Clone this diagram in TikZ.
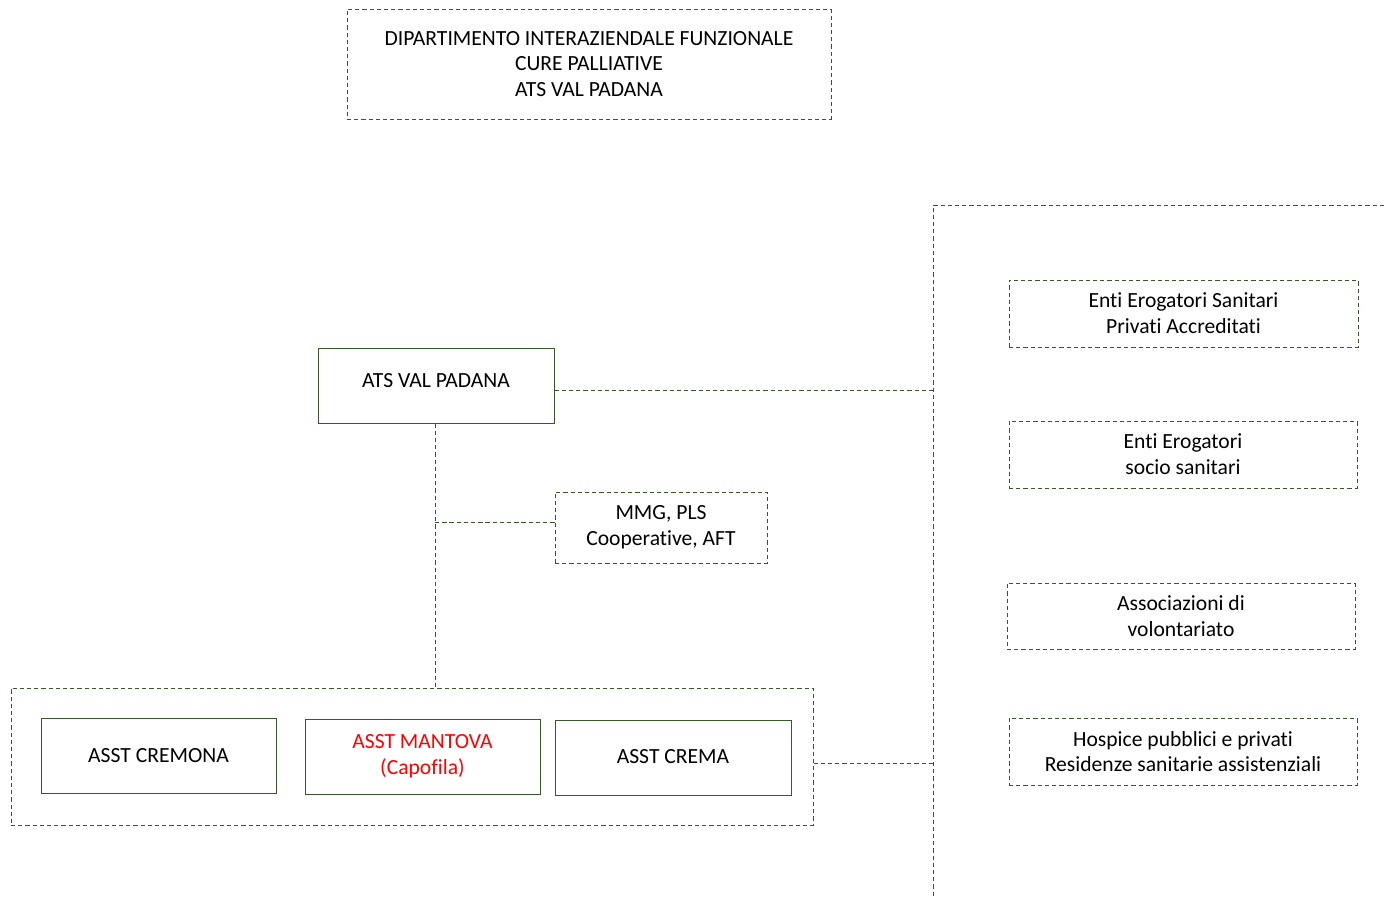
\documentclass[tikz,border=0pt]{standalone}
\usepackage{fontspec}
\setmainfont{Carlito}[Ligatures=CommonOff]
\definecolor{dgreen}{HTML}{38572A}
\definecolor{ared}{HTML}{FF0000}
\begin{document}
\begin{tikzpicture}[x=0.75pt,y=-0.75pt,
  every node/.style={font=\fontsize{16.2}{19.3}\selectfont, align=center, inner sep=0pt},
  dbox/.style={draw=dgreen, line width=0.75pt, dash pattern=on 3.2pt off 2.2pt, rectangle},
  sbox/.style={draw=dgreen, line width=0.75pt, rectangle},
  conn/.style={draw=dgreen, line width=0.75pt, dash pattern=on 3.2pt off 2.2pt}]
\useasboundingbox (0,0) rectangle (1384,896);

\node[dbox, minimum width=363pt, minimum height=82.5pt] (dip) at (589,64)
  {DIPARTIMENTO INTERAZIENDALE FUNZIONALE\\CURE PALLIATIVE\\ATS VAL PADANA};

\node[sbox, minimum width=177pt, minimum height=56.25pt, text depth=8.25pt] (ats) at (436,385.5) {ATS VAL PADANA};

\node[dbox, minimum width=159pt, minimum height=53.25pt] (mmg) at (661,527.5) {MMG, PLS\\Cooperative, AFT};

\node[dbox, minimum width=601.5pt, minimum height=102.75pt] (cont) at (412,756.5) {};
\node[sbox, minimum width=176.25pt, minimum height=56.25pt] (crem) at (158.5,755.5) {ASST CREMONA};
\node[sbox, minimum width=176.25pt, minimum height=56.25pt, text=ared] (mant) at (422.5,756.5) {ASST MANTOVA\\(Capofila)};
\node[sbox, minimum width=177pt, minimum height=56.25pt, text depth=2pt] (crema) at (673,757.5) {ASST CREMA};

\node[dbox, minimum width=261.75pt, minimum height=50.25pt] (e1) at (1183.5,313.5) {Enti Erogatori Sanitari\\Privati Accreditati};
\node[dbox, minimum width=261pt, minimum height=50.25pt] (e2) at (1183,454.5) {Enti Erogatori\\socio sanitari};
\node[dbox, minimum width=261pt, minimum height=49.5pt] (e3) at (1181,616) {Associazioni di\\volontariato};
\node[dbox, minimum width=261pt, minimum height=50.25pt] (e4) at (1183,751.5) {Hospice pubblici e privati\\Residenze sanitarie assistenziali};

\coordinate (rtl) at (933,205);
\coordinate (rtr) at (1384,205);
\coordinate (rbl) at (933,896);
\draw[conn] (rtr) -- (rtl) -- (rbl);

\draw[conn] ([yshift=-4.1pt]ats.east) -- ([yshift=-4.1pt]ats.east -| rtl);
\draw[conn] ([xshift=-0.75pt]ats.south) -- ([xshift=-0.75pt]ats.south |- cont.north);
\draw[conn] ([yshift=4.1pt]mmg.west) -- ([yshift=4.1pt, xshift=-0.75pt]mmg.west -| ats.south);
\draw[conn] ([yshift=-5.6pt]cont.east) -- ([yshift=-5.6pt]cont.east -| rtl);
\end{tikzpicture}
\end{document}
